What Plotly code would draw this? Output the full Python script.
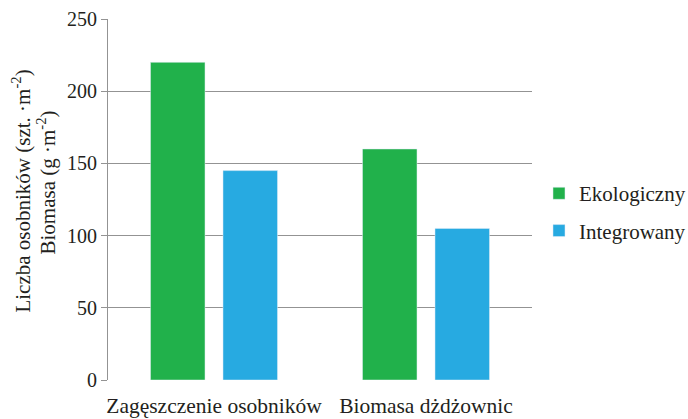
import plotly.graph_objects as go

categories = ["Zagęszczenie osobników", "Biomasa dżdżownic"]
ekologiczny = [220, 160]
integrowany = [145, 105]
y_ticks = [0, 50, 100, 150, 200, 250]
y_title_lines = ["Liczba osobników (szt. ·m<sup>-2</sup>)", "Biomasa (g ·m<sup>-2</sup>)"]

font = "Liberation Serif, Times New Roman, serif"

fig = go.Figure()
fig.add_trace(go.Bar(name="Ekologiczny", x=categories, y=ekologiczny,
                     marker_color="#21b14b", legendgroup="a"))
fig.add_trace(go.Bar(name="Integrowany", x=categories, y=integrowany,
                     marker_color="#27aae1", legendgroup="b"))

fig.add_annotation(text=y_title_lines[0], xref="paper", yref="paper", x=-0.2028, y=0.522,
                   textangle=-90, showarrow=False, xanchor="center", yanchor="middle",
                   font=dict(family=font, size=21, color="#231f20"))
fig.add_annotation(text=y_title_lines[1], xref="paper", yref="paper", x=-0.1439, y=0.547,
                   textangle=-90, showarrow=False, xanchor="center", yanchor="middle",
                   font=dict(family=font, size=21, color="#231f20"))

fig.update_layout(
    width=688, height=419,
    margin=dict(l=108, r=156, t=19, b=39, autoexpand=False),
    plot_bgcolor="white", paper_bgcolor="white",
    barmode="group", bargap=0.316, bargroupgap=0.248,
    font=dict(family=font, size=20, color="#231f20"),
    legend=dict(x=1.0165, y=0.465, xanchor="left", yanchor="middle",
                font=dict(family=font, size=21), tracegroupgap=7, itemwidth=30),
    xaxis=dict(showline=False, ticks="", tickfont=dict(family=font, size=21.5),
               automargin=False, ticklabelstandoff=10),
    yaxis=dict(range=[0, 250], tickvals=y_ticks, showgrid=True, gridcolor="#939393",
               gridwidth=1, showline=True, linecolor="#939393", ticks="outside",
               ticklen=6, tickcolor="#939393", tickfont=dict(family=font, size=20),
               zeroline=False, automargin=False),
)
fig.write_html("out.html", post_script="document.body.style.margin='0';",
               config={"displayModeBar": False})
